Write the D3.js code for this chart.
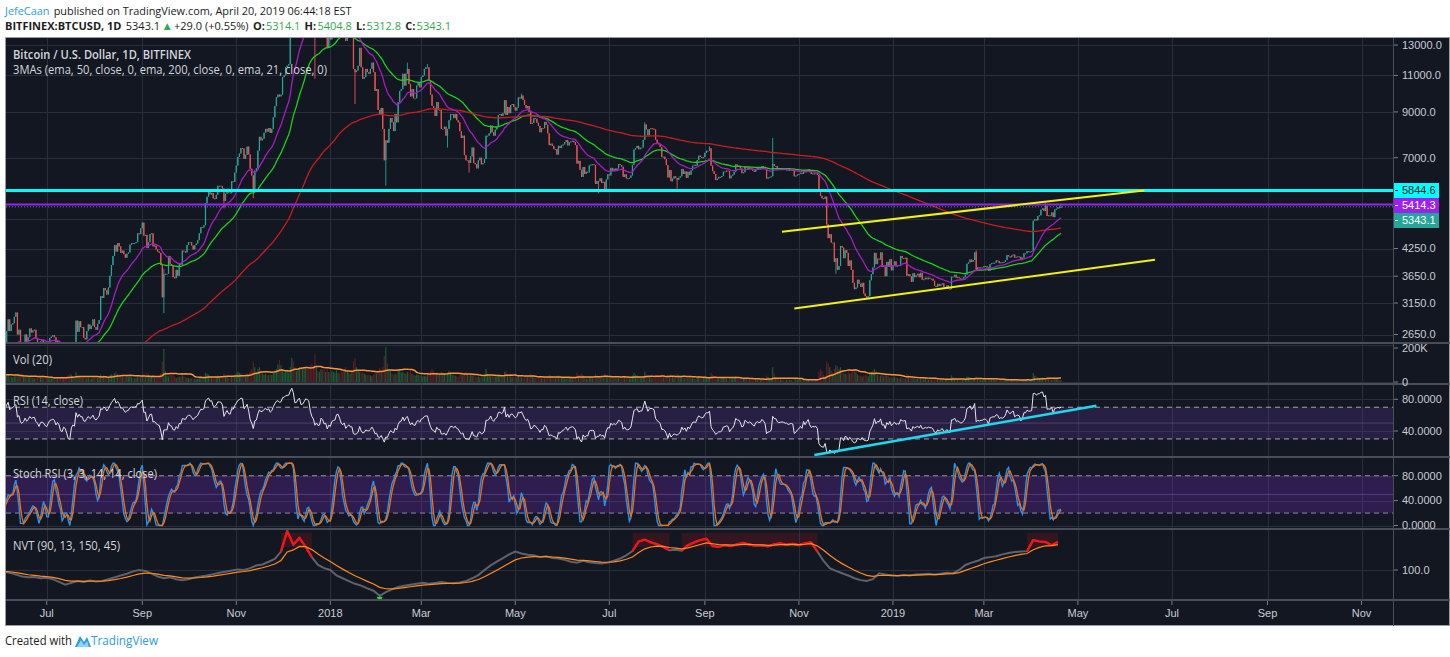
<!DOCTYPE html>
<html><head><meta charset="utf-8">
<script src="https://cdn.jsdelivr.net/npm/d3@7"></script>
<style>html,body{margin:0;padding:0;background:#fff;overflow:hidden}</style>
</head><body>
<svg id="chart" width="1450" height="657" xmlns="http://www.w3.org/2000/svg"></svg>
<script>
// ================= DATA =================
const firstDay = "2017-05-04";
// daily closes BITFINEX BTCUSD, from firstDay
const closes = [
// 2017 May (4..31)
1560,1530,1560,1560,1670,1720,1780,1830,1690,1740,1760,1700,1720,1800,1880,1960,2040,2040,2120,2250,2430,2550,2260,2100,2200,2280,2180,2300,
// Jun
2420,2500,2550,2540,2700,2880,2700,2800,2820,2920,2990,2650,2720,2480,2440,2510,2650,2540,2610,2740,2680,2710,2720,2590,2540,2430,2550,2570,2540,2460,
// Jul
2430,2520,2600,2620,2640,2610,2500,2560,2500,2330,2300,2400,2360,2200,1960,1930,2230,2320,2280,2860,2690,2850,2760,2760,2600,2580,2700,2800,2730,2780,2880,
// Aug
2760,2720,2810,2870,3270,3240,3420,3380,3300,3430,3660,3880,4080,4330,4180,4380,4300,4150,4200,4120,4040,4130,4160,4340,4380,4370,4380,4400,4620,4600,4750,
// Sep
4900,4560,4580,4260,4400,4600,4620,4300,4320,4230,4180,4150,3880,3250,3700,3700,3700,4080,3900,3870,3630,3610,3780,3660,3920,3890,4200,4180,4160,4330,
// Oct
4400,4400,4320,4230,4330,4370,4450,4620,4780,4770,4830,5450,5650,5820,5720,5770,5600,5580,5710,6000,6000,5990,5910,5520,5740,5900,5780,5760,6150,6130,6450,
// Nov
6700,7030,7160,7380,7360,6960,7110,7440,7130,6590,6350,5880,6520,6600,7280,7850,7700,7770,8030,8200,8080,8240,8020,8200,8740,9290,9750,9900,9800,9900,
// Dec
10900,11000,11500,11600,11700,13600,16800,16300,15000,15200,16700,17200,16300,16500,17600,19200,19100,18900,17200,16100,15500,13900,14500,13800,13900,15800,15400,14300,14500,12800,13800,
// 2018 Jan
13400,14800,15100,15200,16900,17100,16200,14900,14400,14900,13300,13800,14200,13600,13600,11400,11200,11300,11600,12800,11500,10800,10900,11400,11200,11100,11400,11800,11200,10100,10200,
// Feb
9100,8900,9200,8200,6900,7700,7600,8200,8700,8500,8100,8900,8500,9500,10100,10200,11100,10400,11100,11400,10500,9800,10200,9700,9700,10400,10600,10300,
// Mar
10900,11000,11400,11500,11500,10700,9900,9300,9200,8800,9500,9100,9100,8200,8200,8300,7900,8200,8600,8900,8900,8700,8900,8600,8500,8100,7800,7900,7100,6900,6900,
// Apr
6800,7050,7400,6800,6750,6600,6900,7000,6750,6800,6950,7900,7900,8000,8350,8050,7900,8170,8280,8850,8900,8800,8930,9600,8850,9250,8940,9350,9400,9240,
// May
9070,9220,9750,9690,9850,9620,9350,9180,9300,9000,8430,8480,8700,8670,8480,8340,8050,8240,8230,8520,8390,8000,7500,7560,7470,7340,7340,7120,7470,7380,7490,
// Jun
7530,7630,7710,7490,7620,7650,7680,7620,7500,6780,6880,6550,6300,6650,6400,6480,6460,6710,6740,6750,6720,6060,6160,6150,6250,6090,6130,5890,6210,6390,
// Jul
6350,6620,6510,6590,6530,6600,6760,6720,6660,6300,6390,6250,6240,6270,6350,6730,7320,7380,7470,7330,7400,7400,7720,8400,8170,7920,8190,8230,8210,8170,7730,
// Aug
7600,7540,7420,7030,7040,6940,6720,6280,6540,6150,6240,6320,6260,6200,6270,6320,6580,6400,6490,6270,6480,6370,6530,6700,6730,6700,6910,7080,7030,6990,7020,
// Sep
7190,7270,7270,7370,6700,6500,6400,6190,6240,6300,6290,6330,6480,6490,6520,6500,6250,6340,6380,6480,6750,6700,6690,6600,6430,6460,6680,6640,6580,6620,
// Oct
6590,6520,6480,6580,6620,6590,6600,6680,6640,6580,6240,6280,6290,6320,6760,6690,6690,6600,6570,6580,6590,6580,6560,6560,6530,6540,6550,6540,6320,6340,6380,
// Nov
6400,6440,6400,6530,6460,6520,6570,6460,6400,6420,6410,6420,6370,5820,5680,5600,5580,5650,4850,4500,4600,4390,4390,3950,4030,3780,3860,4310,4270,4030,
// Dec
4210,4150,3860,3980,3780,3520,3400,3430,3580,3500,3440,3520,3320,3270,3250,3270,3570,3690,3830,4150,3900,4020,4000,4160,3840,3870,3650,3950,3840,4010,3770,
// 2019 Jan
3880,3960,3850,3880,3860,4080,4030,4020,4040,3660,3690,3650,3540,3710,3630,3670,3700,3630,3720,3580,3590,3620,3590,3620,3600,3600,3560,3460,3440,3500,3460,
// Feb
3490,3510,3440,3440,3470,3410,3400,3640,3640,3680,3620,3630,3610,3590,3600,3630,3680,3910,3940,4000,3950,3990,4160,3780,3830,3810,3830,3830,
// Mar
3860,3860,3830,3760,3900,3920,3930,3930,3980,3970,3920,3940,3930,3950,3990,4100,4070,4050,4090,4110,4040,4060,4070,4060,4000,4040,4140,4140,4190,4180,4180,
// Apr (1..20)
4190,4950,4990,4960,5080,5100,5260,5300,5220,5370,5080,5100,5090,5180,5050,5270,5290,5330,5314.1,5343.1
];
// daily volume, thousands of BTC, same days as closes
const volumes = [
25,28,22,20,30,32,35,38,40,30,25,28,26,30,35,38,40,35,38,45,55,60,70,50,40,38,35,30,
30,28,26,25,32,38,30,28,26,30,35,45,35,40,45,32,28,26,25,30,24,22,20,22,25,30,26,24,22,25,
22,20,18,20,18,20,25,18,20,28,30,26,22,30,38,45,40,32,30,55,40,30,25,22,25,22,20,24,20,18,22,
24,28,22,25,40,30,35,30,32,28,38,42,40,48,55,42,40,38,32,30,28,32,28,30,26,22,20,22,30,28,26,
35,45,28,50,40,30,26,35,22,25,24,28,48,110,180,60,35,30,40,35,38,30,22,25,30,28,35,30,28,22,
22,18,22,20,18,16,18,20,25,22,24,50,45,40,30,28,30,32,28,35,30,25,28,45,30,28,24,22,30,26,35,
45,55,50,45,35,40,38,45,40,60,70,110,80,55,70,80,60,45,40,45,35,38,40,38,50,60,70,95,120,90,
70,50,55,60,50,80,130,110,80,60,70,80,75,70,75,80,75,70,90,100,85,150,80,60,55,70,65,70,55,70,55,
45,60,55,50,65,50,45,60,55,65,80,60,50,45,50,110,130,80,60,55,50,55,45,40,38,40,35,30,38,50,45,
60,75,50,80,140,190,100,70,60,45,40,45,40,60,65,50,55,50,45,55,50,60,45,40,35,40,38,35,
35,30,32,30,38,45,60,70,60,45,50,40,38,55,50,45,40,50,60,55,40,38,35,30,28,38,40,35,50,55,40,
35,38,35,40,30,28,30,25,35,25,30,70,45,35,30,35,32,30,28,40,35,30,28,55,60,40,35,30,28,30,
28,25,35,28,25,22,28,30,25,30,45,35,25,22,25,22,28,20,18,20,25,28,40,35,28,22,20,28,35,25,22,
22,20,20,25,22,20,18,20,22,50,35,40,45,35,28,20,18,28,25,22,20,45,35,28,25,28,25,45,35,30,
25,30,25,22,24,20,22,20,20,32,28,25,22,18,20,35,50,40,35,30,25,20,30,55,40,38,30,25,20,22,35,
28,26,28,35,25,28,30,38,32,40,30,25,28,45,35,30,28,25,22,25,22,28,22,20,18,16,25,28,22,20,22,
25,20,18,28,50,40,30,25,18,20,22,20,24,20,16,14,25,20,18,22,30,18,15,16,22,20,22,18,14,12,
12,14,12,12,12,10,10,12,12,12,35,28,15,14,80,45,25,20,15,14,12,10,11,12,12,11,10,9,20,18,14,
14,12,10,12,10,12,12,12,10,9,10,11,12,55,70,60,40,30,110,100,80,60,50,70,90,85,70,80,60,50,
45,40,55,45,50,60,70,55,40,35,35,30,35,40,35,30,45,55,60,70,60,40,30,35,45,30,40,35,30,25,25,
22,28,25,22,18,25,22,20,18,45,35,22,20,25,20,18,18,20,18,15,15,18,14,13,12,12,14,22,18,16,14,
14,12,12,12,12,14,14,35,25,18,15,14,12,12,10,10,14,30,28,25,20,16,25,30,20,16,14,13,
13,12,12,16,14,12,12,12,12,10,12,10,10,12,10,14,10,12,12,14,12,10,9,9,12,12,14,12,14,10,10,
12,48,35,30,25,18,20,25,18,22,30,20,14,12,18,20,16,14,12,10
];
// notable wick extremes
const wickHighs = [["2017-09-15",3800],["2018-02-20",11800],["2018-03-05",11700],["2018-05-05",9950],["2018-07-24",8500],["2018-09-04",7450],["2018-10-15",7800],["2019-02-24",4210],["2019-04-10",5470],["2019-04-20",5404.8]];
const wickLows = [["2017-09-15",2980],["2017-10-24",5300],["2017-11-12",5600],["2017-12-22",10800],["2018-01-17",9400],["2018-02-06",6000],["2018-03-18",7400],["2018-04-01",6450],["2018-06-24",5750],["2018-06-29",5800],["2018-08-14",5900],["2018-11-25",3700],["2018-12-15",3220],["2019-02-07",3390],["2019-04-20",5312.8]];
// NVT values, one every nvtStepDays from nvtFirstDay
const nvtFirstDay = "2017-06-03";
const nvtStepDays = 4;
const nvtValues = [
97,94,90,86,84,85,82,83,80,74,
68,72,76,74,77,75,76,80,84,88,
92,97,100,98,92,86,82,84,80,78,
80,84,86,88,91,94,96,99,101,100,
104,110,112,118,124,140,185,155,170,150,
128,111,104,100,88,82,76,70,66,60,
55,44,52,58,63,66,68,70,72,70,
72,74,72,71,73,76,82,89,100,110,
118,126,134,140,136,133,132,128,130,126,
125,122,118,116,120,117,115,114,116,120,
125,132,141,162,166,160,156,150,143,144,
142,154,160,165,168,152,150,154,152,156,
159,155,153,154,151,156,158,155,157,154,
158,160,140,120,104,98,93,88,82,78,
76,80,93,90,88,87,89,88,90,91,
92,90,92,94,93,100,111,116,120,126,
128,130,134,137,139,140,141,165,162,161,
154,161
];
const emaLengths = [50, 200, 21];
const emaSeeds = [1300, 1250, 1500];
const priceTicks = [13000, 11000, 9000, 7000, 4250, 3650, 3150, 2650];
const priceGridOnly = [5000];
const levelPrices = [5844.6, 5414.3, 5343.1];
const upperTrend = [["2018-10-21", 4661], ["2019-06-13", 5844.6]];
const lowerTrend = [["2018-10-29", 3057], ["2019-06-20", 3998]];
const rsiTrend = [["2018-11-11", 9.6], ["2019-05-13", 71.8]];
const timeTicks = [["2017-07-01","Jul"],["2017-09-01","Sep"],["2017-11-01","Nov"],["2018-01-01","2018"],["2018-03-01","Mar"],["2018-05-01","May"],["2018-07-01","Jul"],["2018-09-01","Sep"],["2018-11-01","Nov"],["2019-01-01","2019"],["2019-03-01","Mar"],["2019-05-01","May"],["2019-07-01","Jul"],["2019-09-01","Sep"],["2019-11-01","Nov"]];
const volTicks = [[200,"200K"],[0,"0"]];
const rsiTicks = [80, 40];
const stochTicks = [80, 40, 0];
const nvtTicks = [100];
const rsiBand = [70, 30];
const stochBand = [80, 20];
const nvtUpper = 150, nvtLower = 45;

// ================= LAYOUT / STYLE =================
const BG = "#131722", GRID = "#2a2e3a", SEP = "#4a4e5a", TXT = "#c9ccd4";
const X0 = 6, X1 = 1393;
const P = {main:[38,342], vol:[344,383], rsi:[385,456], stoch:[458,528], nvt:[530,599]};
const UP = "#26a69a", DOWN = "#ef5350";
const emaColors = ["#19d219", "#c81e1e", "#a81cc4"];
const levelColors = ["#00ffff", "#9b22ec", "#26a69a"];
const levelText = ["#131722", "#ffffff", "#ffffff"];
const FONT = "'Open Sans', sans-serif";

const DAY = 864e5;
const pd = s => new Date(s + "T00:00:00Z");
const svg = d3.select("#chart");
const defs = svg.append("defs");
function clip(id, x0, y0, x1, y1){ defs.append("clipPath").attr("id", id).append("rect").attr("x", x0).attr("y", y0).attr("width", x1 - x0).attr("height", y1 - y0); return `url(#${id})`; }

const x = d3.scaleUtc().domain([new Date(Date.UTC(2017,5,4,14)), new Date(Date.UTC(2019,10,21,10))]).range([X0, X1]);
const y = d3.scaleLog().domain([2650, 13000]).range([334.5, 45]);
const yVol = d3.scaleLinear().domain([0, 200]).range([382, 345]);
const yRsi = d3.scaleLinear().domain([40, 80]).range([431, 399.3]);
const ySt = d3.scaleLinear().domain([0, 80]).range([525.5, 475.7]);
const yNvt = d3.scaleLinear().domain([100, 150]).range([570, 547]);

// ---------- derived series ----------
const t0 = pd(firstDay).getTime();
const bars = closes.map((c, i) => ({ d: new Date(t0 + i * DAY), o: i ? closes[i-1] : c, c, v: volumes[i] }));
bars.forEach(b => { b.h = Math.max(b.o, b.c); b.l = Math.min(b.o, b.c); });
const byKey = new Map(bars.map(b => [b.d.toISOString().slice(0,10), b]));
wickHighs.forEach(([k, v]) => { const b = byKey.get(k); if (b) b.h = Math.max(b.h, v); });
wickLows.forEach(([k, v]) => { const b = byKey.get(k); if (b) b.l = Math.min(b.l, v); });

function ema(arr, n, seed){ const a = 2/(n+1); let e = seed; return arr.map(v => (e = a*v + (1-a)*e)); }
function sma(arr, n){ return arr.map((v, i) => { if (i < n-1) return null; let s = 0; for (let j = i-n+1; j <= i; j++){ if (arr[j] == null) return null; s += arr[j]; } return s/n; }); }
function rsi(arr, n){
  const out = arr.map(() => null); let ag = 0, al = 0;
  for (let i = 1; i < arr.length; i++){
    const ch = arr[i] - arr[i-1], g = Math.max(ch, 0), l = Math.max(-ch, 0);
    if (i <= n){ ag += g/n; al += l/n; if (i === n) out[i] = al === 0 ? 100 : 100 - 100/(1 + ag/al); }
    else { ag = (ag*(n-1) + g)/n; al = (al*(n-1) + l)/n; out[i] = al === 0 ? 100 : 100 - 100/(1 + ag/al); }
  }
  return out;
}
const emas = emaLengths.map((n, k) => ema(closes, n, emaSeeds[k]));
const rsiV = rsi(closes, 14);
const stochRaw = rsiV.map((r, i) => {
  if (r == null || i < 13) return null;
  const w = rsiV.slice(i-13, i+1); if (w.some(v => v == null)) return null;
  const lo = d3.min(w), hi = d3.max(w); return hi === lo ? 0 : 100*(r - lo)/(hi - lo);
});
const kLine = sma(stochRaw, 3), dLine = sma(kLine, 3);
const volMA = sma(volumes, 20);
const nT0 = pd(nvtFirstDay).getTime();
const nvt = nvtValues.map((v, i) => ({ d: new Date(nT0 + i*nvtStepDays*DAY), v }));
const nvtSig = ema(nvtValues, 6, nvtValues[0]);

// ================= DRAW =================
svg.append("rect").attr("width", 1450).attr("height", 657).attr("fill", "#ffffff");
// header: pieces laid out side by side (with a small gap), then squeezed to the reference width
function richLine(x0, yy, pieces, target){
  const g = svg.append("g");
  let xx = 0; const gap = 1.2;
  pieces.forEach(([t, c, w, fs]) => {
    const el = g.append("text").attr("x", xx).attr("y", 0).attr("fill", c).attr("font-weight", w)
      .attr("font-family", FONT).attr("font-size", fs || 11).text(t.trim());
    xx += el.node().getComputedTextLength() + gap + (/\s$/.test(t) ? 3 : 0);
  });
  g.attr("transform", `translate(${x0},${yy}) scale(${target/(xx - gap)},1)`);
}
const K = "#1c1c1c", G = "#2fa84f", B = "#2c9be0";
richLine(5, 15, [["JefeCaan ", B, 400], ["published on TradingView.com, April 20, 2019 06:44:18 EST", K, 400]], 347);
richLine(5, 30, [["BITFINEX:BTCUSD, 1D  ", K, 700], ["5343.1", K, 400], ["▲", G, 400, 11.5], ["+29.0 (+0.55%) ", K, 400],
 ["O:", K, 700], ["5314.1 ", G, 400], ["H:", K, 700], ["5404.8 ", G, 400], ["L:", K, 700], ["5312.8 ", G, 400], ["C:", K, 700], ["5343.1", G, 400]], 446);

// chart background + frame
svg.append("rect").attr("x", 5).attr("y", 37).attr("width", 1445).attr("height", 589).attr("fill", BG);
svg.append("rect").attr("x", 5.5).attr("y", 37.5).attr("width", 1444).attr("height", 588).attr("fill", "none").attr("stroke", "#9a9ca3").attr("stroke-width", 1);

const grid = svg.append("g").attr("stroke", GRID).attr("stroke-width", 1);
const hline = yy => { yy = Math.round(yy) + 0.5; grid.append("line").attr("x1", X0).attr("x2", X1).attr("y1", yy).attr("y2", yy); };
timeTicks.forEach(([d]) => { const xx = Math.round(x(pd(d))) + 0.5; grid.append("line").attr("x1", xx).attr("x2", xx).attr("y1", 38).attr("y2", 600); });
priceTicks.concat(priceGridOnly).forEach(p => hline(y(p)));
volTicks.forEach(([v]) => hline(yVol(v)));
rsiTicks.forEach(v => hline(yRsi(v)));
stochTicks.forEach(v => hline(ySt(v)));
nvtTicks.forEach(v => hline(yNvt(v)));

// ---------- main pane ----------
const gMain = svg.append("g").attr("clip-path", clip("cMain", X0, P.main[0], X1, P.main[1]));
const bw = 1.2;
gMain.append("g").selectAll("line").data(bars).join("line")
  .attr("x1", b => x(b.d)).attr("x2", b => x(b.d)).attr("y1", b => y(b.h)).attr("y2", b => y(b.l))
  .attr("stroke", b => b.c >= b.o ? UP : DOWN).attr("stroke-width", 0.9);
gMain.append("g").selectAll("rect").data(bars).join("rect")
  .attr("x", b => x(b.d) - bw/2).attr("width", bw)
  .attr("y", b => y(Math.max(b.o, b.c))).attr("height", b => Math.max(1, y(Math.min(b.o, b.c)) - y(Math.max(b.o, b.c))))
  .attr("fill", b => b.c >= b.o ? UP : DOWN);
emas.forEach((e, k) => {
  gMain.append("path").datum(e).attr("fill", "none").attr("stroke", emaColors[k]).attr("stroke-width", 1.3)
    .attr("d", d3.line().x((v, i) => x(bars[i].d)).y(v => y(v)));
});
const lvStyles = [{w:3, dash:null}, {w:2, dash:null}, {w:1, dash:"1,2"}];
levelPrices.forEach((p, k) => {
  gMain.append("line").attr("x1", X0).attr("x2", X1).attr("y1", y(p)).attr("y2", y(p))
    .attr("stroke", levelColors[k]).attr("stroke-width", lvStyles[k].w).attr("stroke-dasharray", lvStyles[k].dash);
});
[upperTrend, lowerTrend].forEach(tl => {
  gMain.append("line").attr("x1", x(pd(tl[0][0]))).attr("y1", y(tl[0][1])).attr("x2", x(pd(tl[1][0]))).attr("y2", y(tl[1][1]))
    .attr("stroke", "#f2f20c").attr("stroke-width", 2);
});

// ---------- volume pane ----------
const gVol = svg.append("g").attr("clip-path", clip("cVol", X0, P.vol[0], X1, P.vol[1]));
gVol.append("g").selectAll("rect").data(bars).join("rect")
  .attr("x", b => x(b.d) - bw/2).attr("width", bw).attr("y", b => yVol(b.v)).attr("height", b => yVol(0) - yVol(b.v))
  .attr("fill", b => b.c >= b.o ? "#1f6b3a" : "#6b2228").attr("opacity", 0.8);
gVol.append("path").datum(volMA).attr("fill", "none").attr("stroke", "#ff9433").attr("stroke-width", 1.5)
  .attr("d", d3.line().defined(v => v != null).x((v, i) => x(bars[i].d)).y(v => yVol(v)));

// ---------- RSI pane ----------
const gRsi = svg.append("g").attr("clip-path", clip("cRsi", X0, P.rsi[0], X1, P.rsi[1]));
gRsi.append("rect").attr("x", X0).attr("width", X1 - X0).attr("y", yRsi(rsiBand[0])).attr("height", yRsi(rsiBand[1]) - yRsi(rsiBand[0])).attr("fill", "rgba(120,70,200,0.2)");
gRsi.append("line").attr("x1", X0).attr("x2", X1).attr("y1", yRsi(50)).attr("y2", yRsi(50)).attr("stroke", "rgba(150,120,210,0.35)");
rsiBand.forEach(v => gRsi.append("line").attr("x1", X0).attr("x2", X1).attr("y1", yRsi(v)).attr("y2", yRsi(v)).attr("stroke", "#a3a6af").attr("stroke-width", 1).attr("stroke-dasharray", "5,4"));
gRsi.append("path").datum(rsiV).attr("fill", "none").attr("stroke", "#e6e6ea").attr("stroke-width", 1)
  .attr("d", d3.line().defined(v => v != null).x((v, i) => x(bars[i].d)).y(v => yRsi(v)));
gRsi.append("line").attr("x1", x(pd(rsiTrend[0][0]))).attr("y1", yRsi(rsiTrend[0][1])).attr("x2", x(pd(rsiTrend[1][0]))).attr("y2", yRsi(rsiTrend[1][1]))
  .attr("stroke", "#1fd8ee").attr("stroke-width", 2.5);

// ---------- Stoch RSI pane ----------
const gSt = svg.append("g").attr("clip-path", clip("cSt", X0, P.stoch[0], X1, P.stoch[1]));
gSt.append("rect").attr("x", X0).attr("width", X1 - X0).attr("y", ySt(stochBand[0])).attr("height", ySt(stochBand[1]) - ySt(stochBand[0])).attr("fill", "rgba(140,50,230,0.24)");
gSt.append("line").attr("x1", X0).attr("x2", X1).attr("y1", ySt(50)).attr("y2", ySt(50)).attr("stroke", "rgba(160,120,220,0.35)");
stochBand.forEach(v => gSt.append("line").attr("x1", X0).attr("x2", X1).attr("y1", ySt(v)).attr("y2", ySt(v)).attr("stroke", "#8f8a9f").attr("stroke-width", 1).attr("stroke-dasharray", "5,4"));
gSt.append("path").datum(kLine).attr("fill", "none").attr("stroke", "#2196f3").attr("stroke-width", 1.4)
  .attr("d", d3.line().defined(v => v != null).x((v, i) => x(bars[i].d)).y(v => ySt(v)));
gSt.append("path").datum(dLine).attr("fill", "none").attr("stroke", "#ff6d00").attr("stroke-width", 1.3)
  .attr("d", d3.line().defined(v => v != null).x((v, i) => x(bars[i].d)).y(v => ySt(v)));

// ---------- NVT pane ----------
const gN = svg.append("g").attr("clip-path", clip("cNvt", X0, P.nvt[0], X1, P.nvt[1]));
let run = null; const runs = [];
nvt.forEach((p, i) => { if (p.v >= nvtUpper){ if (!run) run = [i, i]; else run[1] = i; } else if (run){ runs.push(run); run = null; } });
if (run) runs.push(run);
runs.forEach(([a, b]) => { const xa = x(nvt[Math.max(0, a-1)].d), xb = x(nvt[Math.min(nvt.length-1, b+1)].d);
  gN.append("rect").attr("x", xa).attr("width", xb - xa).attr("y", P.nvt[0] + 3).attr("height", yNvt(nvtUpper) - P.nvt[0] - 3).attr("fill", "rgba(200,20,20,0.18)"); });
gN.append("path").datum(nvt).attr("fill", "none").attr("stroke", "#5f626c").attr("stroke-width", 2)
  .attr("d", d3.line().x(p => x(p.d)).y(p => yNvt(p.v)));
let red = "";
for (let i = 0; i < nvt.length - 1; i++){
  if (nvt[i].v >= nvtUpper || nvt[i+1].v >= nvtUpper) red += `M${x(nvt[i].d)},${yNvt(nvt[i].v)}L${x(nvt[i+1].d)},${yNvt(nvt[i+1].v)}`;
}
gN.append("path").attr("d", red).attr("fill", "none").attr("stroke", "#ff1010").attr("stroke-width", 2.2);
gN.append("path").datum(nvtSig).attr("fill", "none").attr("stroke", "#ff8a1e").attr("stroke-width", 1.2)
  .attr("d", d3.line().x((v, i) => x(nvt[i].d)).y(v => yNvt(v)));
nvt.forEach(p => { if (p.v < nvtLower){ const cx = x(p.d), cy = yNvt(p.v) + 1; gN.append("path").attr("d", `M${cx-3},${cy}L${cx+3},${cy}L${cx},${cy+6}Z`).attr("fill", "#22e02a"); } });

// ---------- separators / axis frame ----------
const sep = svg.append("g").attr("stroke", SEP).attr("stroke-width", 2);
[343, 384, 457, 529, 600].forEach(yy => sep.append("line").attr("x1", 6).attr("x2", 1450).attr("y1", yy).attr("y2", yy));
svg.append("line").attr("x1", 1393.5).attr("x2", 1393.5).attr("y1", 38).attr("y2", 626).attr("stroke", SEP).attr("stroke-width", 1);

// right axis labels
const ax = svg.append("g").attr("font-family", "'Liberation Sans', Arial, sans-serif").attr("font-size", 11).attr("fill", TXT);
function rlabel(g, yy, t){ g.append("line").attr("x1", 1394).attr("x2", 1398).attr("y1", yy).attr("y2", yy).attr("stroke", "#7b7f8a");
  g.append("text").attr("x", 1402).attr("y", yy).attr("dy", "0.35em").text(t); }
priceTicks.forEach(p => rlabel(ax, y(p), p.toFixed(1)));
const axVol = ax.append("g").attr("clip-path", clip("cVolAx", 1394, P.vol[0], 1450, P.vol[1] + 4));
volTicks.forEach(([v, t]) => rlabel(axVol, v > 0 ? yVol(v) + 3 : yVol(v), t));
rsiTicks.forEach(v => rlabel(ax, yRsi(v), v.toFixed(4)));
stochTicks.forEach(v => rlabel(ax, ySt(v), v.toFixed(4)));
nvtTicks.forEach(v => rlabel(ax, yNvt(v), v.toFixed(1)));

// level badges
let prevY = -1e9;
levelPrices.map((p, k) => ({p, k, yy: y(p)})).sort((a, b) => a.yy - b.yy).forEach(o => {
  const cy = Math.max(o.yy, prevY + 15); prevY = cy;
  ax.append("rect").attr("x", 1394).attr("y", cy - 7.5).attr("width", 45).attr("height", 15).attr("fill", levelColors[o.k]);
  ax.append("line").attr("x1", 1395).attr("x2", 1398).attr("y1", cy).attr("y2", cy).attr("stroke", levelText[o.k]);
  ax.append("text").attr("x", 1402).attr("y", cy).attr("dy", "0.35em").attr("fill", levelText[o.k]).text(o.p.toFixed(1));
});

// time axis labels
timeTicks.forEach(([d, t]) => {
  const xx = x(pd(d));
  ax.append("line").attr("x1", xx).attr("x2", xx).attr("y1", 601).attr("y2", 605).attr("stroke", "#7b7f8a");
  ax.append("text").attr("x", xx).attr("y", 617).attr("text-anchor", "middle").text(t);
});

// pane titles
const tt = svg.append("g").attr("font-family", FONT).attr("fill", "#d4d6dc").attr("font-size", 12);
[["Bitcoin / U.S. Dollar, 1D, BITFINEX", 59, 178, 600], ["3MAs (ema, 50, close, 0, ema, 200, close, 0, ema, 21, close, 0)", 74, 314, 400],
 ["Vol (20)", 364, 39, 400], ["RSI (14, close)", 405, 70, 400], ["Stoch RSI (3, 3, 14, 14, close)", 478, 144, 400], ["NVT (90, 13, 150, 45)", 550, 107, 400]]
 .forEach(([t, yy, len, w]) => tt.append("text").attr("x", 13).attr("y", yy).attr("font-weight", w).attr("textLength", len).attr("lengthAdjust", "spacingAndGlyphs").text(t));

// footer
svg.append("text").attr("x", 5).attr("y", 645).attr("font-family", FONT).attr("font-size", 12.5).attr("fill", K).attr("textLength", 67).attr("lengthAdjust", "spacingAndGlyphs").text("Created with");
svg.append("path").attr("d", "M75,647 L80,636 L84,642 L87,637 L91,647 Z").attr("fill", B);
svg.append("path").attr("d", "M77,647 L81,640 L84,645 L87,641 L89,647 Z").attr("fill", "#8fd0f5");
svg.append("text").attr("x", 91).attr("y", 645).attr("font-family", FONT).attr("font-size", 12.5).attr("fill", B).attr("textLength", 67).attr("lengthAdjust", "spacingAndGlyphs").text("TradingView");
</script>
</body></html>
